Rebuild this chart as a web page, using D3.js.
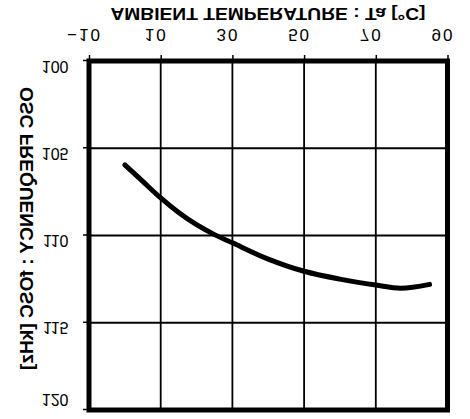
<!DOCTYPE html>
<html>
<head>
<meta charset="utf-8">
<script src="https://cdn.jsdelivr.net/npm/d3@7"></script>
<style>
html,body{margin:0;padding:0;background:#fff;}
svg{display:block;}
text{font-family:"Liberation Sans",Arial,Helvetica,sans-serif;fill:#000;}
</style>
</head>
<body>
<div id="chart"></div>
<script>
const temps = [0, 5, 10, 15, 20, 25, 30, 40, 50, 60, 70, 77, 85];
const freqs = [105.95, 106.9, 107.85, 108.68, 109.38, 109.95, 110.42, 111.35, 112.05, 112.5, 112.84, 113.02, 112.8];
const xTicks = [-10, 10, 30, 50, 70, 90];
const yTicks = [100, 105, 110, 115, 120];
const xTitle = "AMBIENT TEMPERATURE : Ta [°C]";
const yTitle = "OSC FREQUENCY : fOSC [kHz]";

const W = 470, H = 419;
const svg = d3.select("#chart").append("svg").attr("width", W).attr("height", H);
svg.append("rect").attr("width", W).attr("height", H).attr("fill", "#fff");

// The reference is drawn mirrored top-to-bottom
const g = svg.append("g").attr("transform", `translate(0,${H}) scale(1,-1)`);

const x = d3.scaleLinear().domain([-10, 90]).range([89, 447.5]);
const y = d3.scaleLinear().domain([100, 120]).range([358, 9]);

// grid
g.append("g").selectAll("line").data(xTicks.slice(1, -1)).join("line")
  .attr("x1", d => x(d)).attr("x2", d => x(d))
  .attr("y1", y(100)).attr("y2", y(120))
  .attr("stroke", "#000").attr("stroke-width", 1.8);
g.append("g").selectAll("line").data(yTicks.slice(1, -1)).join("line")
  .attr("y1", d => y(d)).attr("y2", d => y(d))
  .attr("x1", x(-10)).attr("x2", x(90))
  .attr("stroke", "#000").attr("stroke-width", 1.8);

// axes
const xa = g.append("g").attr("transform", `translate(0,${y(100)})`)
  .call(d3.axisBottom(x).tickValues(xTicks).tickSize(6).tickSizeOuter(0).tickFormat(d => d < 0 ? "\u2212" + Math.abs(d) : d));
xa.select(".domain").remove();
xa.selectAll(".tick line").attr("stroke-width", 1.5);
xa.selectAll(".tick text").attr("font-size", 17).attr("letter-spacing", 2)
  .attr("y", 0).attr("dy", 31.7).attr("dx", -5)
  .style("font-family", '"Liberation Sans",Arial,sans-serif');

const ya = g.append("g").attr("transform", `translate(${x(-10)},0)`)
  .call(d3.axisLeft(y).tickValues(yTicks).tickSize(6).tickSizeOuter(0));
ya.select(".domain").remove();
ya.selectAll(".tick line").attr("stroke-width", 1.5);
ya.selectAll(".tick text").attr("font-size", 16).attr("x", -20.5)
  .attr("dy", d => d === 120 ? 16 : 0)
  .style("font-family", '"Liberation Sans",Arial,sans-serif');

// frame
g.append("rect").attr("x", x(-10)).attr("y", y(120))
  .attr("width", x(90) - x(-10)).attr("height", y(100) - y(120))
  .attr("fill", "none").attr("stroke", "#000").attr("stroke-width", 5);

// curve
const pts = temps.map((t, i) => [t, freqs[i]]);
g.append("path").datum(pts)
  .attr("d", d3.line().x(d => x(d[0])).y(d => y(d[1])).curve(d3.curveCatmullRom.alpha(0.5)))
  .attr("fill", "none").attr("stroke", "#000").attr("stroke-width", 5)
  .attr("stroke-linecap", "round").attr("stroke-linejoin", "round");

// titles
g.append("text").attr("x", 268).attr("y", 410.7).attr("text-anchor", "middle")
  .attr("font-size", 17).attr("font-weight", "bold").attr("textLength", 315)
  .attr("lengthAdjust", "spacingAndGlyphs").text(xTitle);
g.append("text").attr("transform", "translate(33.3,190.5) rotate(-90)")
  .attr("text-anchor", "middle").attr("font-size", 18).attr("font-weight", "bold")
  .attr("textLength", 283).attr("lengthAdjust", "spacingAndGlyphs").text(yTitle);
</script>
</body>
</html>
